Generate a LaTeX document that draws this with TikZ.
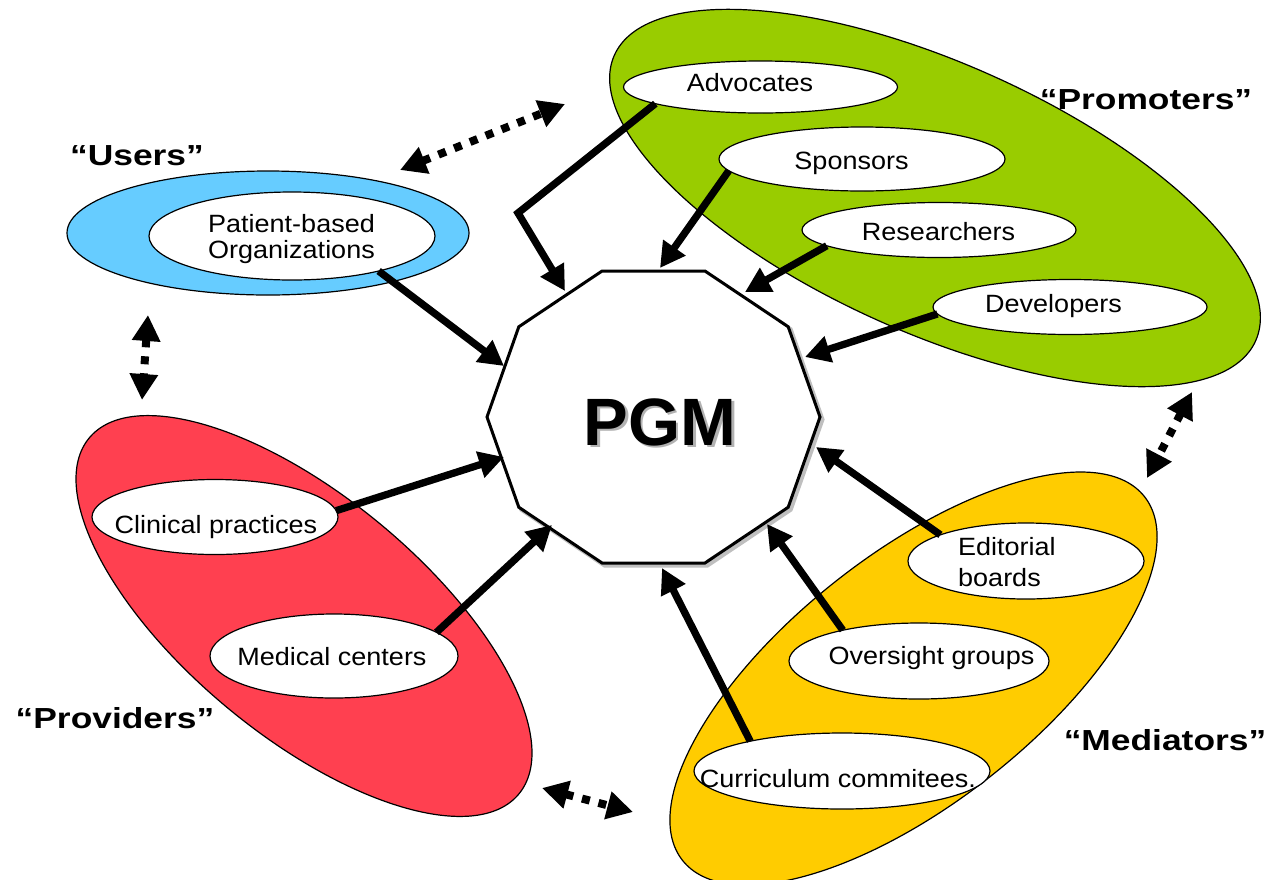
\documentclass[tikz,border=0pt]{standalone}
\usepackage{fontspec}
\setmainfont{Liberation Sans}
\usepackage{graphicx}
\usetikzlibrary{arrows.meta,shapes.geometric}
\definecolor{ublue}{RGB}{102,204,255}
\definecolor{ugreen}{RGB}{153,204,0}
\definecolor{ured}{RGB}{255,64,80}
\definecolor{uyellow}{RGB}{255,204,0}
\newcommand{\itx}[1]{\scalebox{1.08}[1]{#1}}
\newcommand{\ltx}[1]{\scalebox{1.22}[1]{#1}}
\begin{document}
\begin{tikzpicture}[x=1pt,y=-1pt,
  bigell/.style={ellipse,draw=black,line width=1.2pt,inner sep=0pt,outer sep=0pt},
  inell/.style={ellipse,draw=black,fill=white,line width=1.2pt,inner sep=0pt,outer sep=0pt},
  txt/.style={anchor=base,inner sep=0pt,font=\fontsize{25}{26.5}\selectfont},
  lbl/.style={anchor=base,inner sep=0pt,font=\bfseries\fontsize{29}{32}\selectfont},
  flow/.style={line width=7.3pt,-{Triangle[length=25pt,width=26pt]}},
  link/.style={line width=8pt,dash pattern=on 8pt off 9pt,{Triangle[length=26pt,width=27pt]}-{Triangle[length=26pt,width=27pt]}}
]
\useasboundingbox (0,0) rectangle (1268,879);

% group ellipses
\node[bigell,fill=ublue,minimum width=402pt,minimum height=124pt] (users) at (268,233) {};
\node[bigell,fill=ugreen,minimum width=702pt,minimum height=270pt,rotate=-24] (promoters) at (935,198) {};
\node[bigell,fill=ured,minimum width=558pt,minimum height=239pt,rotate=-39.65] (providers) at (304,616) {};
\node[bigell,fill=uyellow,minimum width=588pt,minimum height=249pt,rotate=38.2] (mediators) at (913.5,678.5) {};

% member ellipses
\node[inell,minimum width=274pt,minimum height=52pt] (adv) at (760.5,87) {};
\node[inell,minimum width=286pt,minimum height=64pt] (spo) at (862,159) {};
\node[inell,minimum width=274pt,minimum height=55pt] (res) at (939,230) {};
\node[inell,minimum width=274pt,minimum height=55pt] (dev) at (1070,307) {};
\node[inell,minimum width=286pt,minimum height=88pt] (pat) at (292,236) {};
\node[inell,minimum width=246pt,minimum height=75pt] (cli) at (215,517) {};
\node[inell,minimum width=248pt,minimum height=84pt] (med) at (334,656) {};
\node[inell,minimum width=236pt,minimum height=76pt] (edi) at (1026,561) {};
\node[inell,minimum width=260pt,minimum height=76pt] (ove) at (919,661) {};
\node[inell,minimum width=296pt,minimum height=76pt] (cur) at (842,771) {};

% member texts
\node[txt] (tadv) at (750,91) {\itx{Advocates}};
\node[txt] (tspo) at (851.5,169) {\itx{Sponsors}};
\node[txt] (tres) at (938.5,240) {\itx{Researchers}};
\node[txt] (tdev) at (1053.5,312) {\itx{Developers}};
\node[txt] (tpat) at (291.5,232) {\itx{\begin{tabular}[t]{@{}c@{}}Patient-based\\Organizations\end{tabular}}};
\node[txt] (tcli) at (216,533) {\itx{Clinical practices}};
\node[txt] (tmed) at (332,665) {\itx{Medical centers}};
\node[txt,anchor=base west,font=\fontsize{25}{31}\selectfont] (tedi) at (958,555) {\itx{\begin{tabular}[t]{@{}l@{}}Editorial\\boards\end{tabular}}};
\node[txt] (tove) at (931.5,664) {\itx{Oversight groups}};
\node[txt] (tcur) at (838,787) {\itx{Curriculum commitees.}};

% central decagon
\foreach \i in {0,...,9}{
  \coordinate (v\i) at ({653.5+166.5*cos(36*\i)},{417-153.5*sin(36*\i)});
  \coordinate (s\i) at ({656+166.5*cos(36*\i)},{419.5-153.5*sin(36*\i)});
}
\draw[black!25,line width=4pt] (s0)--(s1)--(s2)--(s3)--(s4)--(s5)--(s6)--(s7)--(s8)--(s9)--cycle;
\draw[black,fill=white,line width=3pt] (v0)--(v1)--(v2)--(v3)--(v4)--(v5)--(v6)--(v7)--(v8)--(v9)--cycle;
\node[anchor=base,inner sep=0pt,font=\bfseries\fontsize{67}{70}\selectfont,text=black!30] (pgmsh) at (662.5,447.5) {PGM};
\node[anchor=base,inner sep=0pt,font=\bfseries\fontsize{67}{70}\selectfont] (pgm) at (660,445) {PGM};

% arrow targets on the decagon
\coordinate (k1) at (518,213);
\coordinate (e1) at (565,291);
\coordinate (e2) at (660,268);
\coordinate (e3) at (745,292);
\coordinate (e4) at (805,357);
\coordinate (e5) at (504,366);
\coordinate (e6) at (504,457);
\coordinate (e7) at (552,525);
\coordinate (e8) at (662,568);
\coordinate (e9) at (767,524);
\coordinate (e10) at (816,447);

\draw[flow,line join=miter] (adv.189) -- (k1) -- (e1);
\draw[flow] (spo.185) -- (e2);
\draw[flow] (res.188) -- (e3);
\draw[flow] (dev.183) -- (e4);
\draw[flow] (pat.-22) -- (e5);
\draw[flow] (cli.3) -- (e6);
\draw[flow] (med.13) -- (e7);
\draw[flow] (cur.162) -- (e8);
\draw[flow] (ove.158) -- (e9);
\draw[flow] (edi.163) -- (e10);

% dotted double arrows between groups
\coordinate (d1a) at (400,170); \coordinate (d1b) at (565,104);
\coordinate (d2a) at (148,315); \coordinate (d2b) at (142,400);
\coordinate (d3a) at (542,788); \coordinate (d3b) at (633,812);
\coordinate (d4a) at (1192,392); \coordinate (d4b) at (1147,478);
\draw[link] (d1a) -- (d1b);
\draw[link] (d2a) -- (d2b);
\draw[link] (d3a) -- (d3b);
\draw[link] (d4a) -- (d4b);

% group labels
\node[lbl] (lusers) at (137,165) {\ltx{“Users”}};
\node[lbl] (lpromo) at (1146,109) {\ltx{“Promoters”}};
\node[lbl] (lprov) at (115,728) {\ltx{“Providers”}};
\node[lbl] (lmed) at (1165,750) {\ltx{“Mediators”}};
\end{tikzpicture}
\end{document}
